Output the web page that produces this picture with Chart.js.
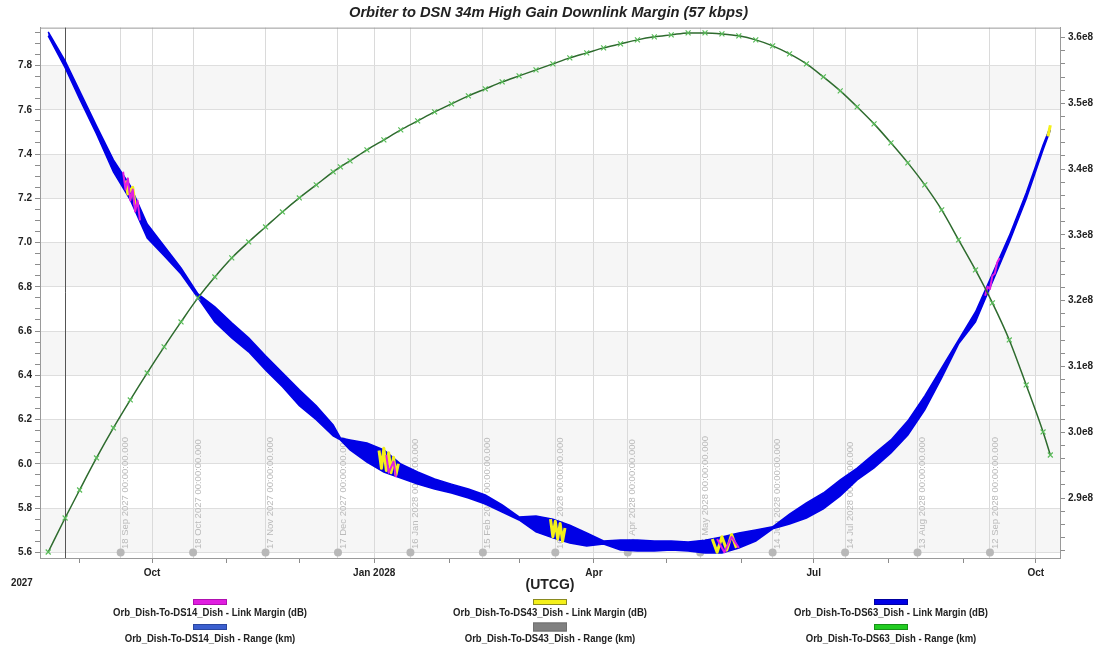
<!DOCTYPE html>
<html>
<head>
<meta charset="utf-8">
<script src="https://cdn.jsdelivr.net/npm/chart.js@4.4.1/dist/chart.umd.min.js"></script>
<style>
  html, body { margin: 0; padding: 0; background: #fff; }
</style>
</head>
<body>
<canvas id="marginChart" width="1097" height="649"></canvas>
<script>
// weekly samples (UTCG dates)
const marginDates = ['2027-08-19', '2027-08-26', '2027-09-01', '2027-09-08', '2027-09-15', '2027-09-22', '2027-09-29',
  '2027-10-06', '2027-10-13', '2027-10-20', '2027-10-27', '2027-11-03', '2027-11-10', '2027-11-17', '2027-11-24',
  '2027-12-01', '2027-12-08', '2027-12-15', '2027-12-18', '2027-12-22', '2027-12-29', '2028-01-05', '2028-01-12',
  '2028-01-19', '2028-01-26', '2028-02-02', '2028-02-09', '2028-02-16', '2028-02-23', '2028-03-01', '2028-03-08',
  '2028-03-15', '2028-03-22', '2028-03-29', '2028-04-05', '2028-04-12', '2028-04-19', '2028-04-26', '2028-05-03',
  '2028-05-10', '2028-05-17', '2028-05-24', '2028-05-31', '2028-06-07', '2028-06-14', '2028-06-21', '2028-06-28',
  '2028-07-05', '2028-07-12', '2028-07-19', '2028-07-26', '2028-08-02', '2028-08-09', '2028-08-16', '2028-08-23',
  '2028-08-30', '2028-09-06', '2028-09-13', '2028-09-20', '2028-09-27', '2028-10-04', '2028-10-07'];

// DS63 link margin (dB): top and bottom edge of the daily swing
const ds63MarginHigh = [7.952, 7.821, 7.686, 7.527, 7.374, 7.256, 7.084, 6.985, 6.885, 6.768, 6.709, 6.637, 6.569,
  6.488, 6.411, 6.334, 6.262, 6.176, 6.117, 6.108, 6.094, 6.063, 5.999, 5.963, 5.931, 5.908, 5.886, 5.859, 5.814,
  5.760, 5.764, 5.750, 5.723, 5.687, 5.651, 5.655, 5.655, 5.651, 5.651, 5.646, 5.655, 5.669, 5.687, 5.701, 5.715,
  5.773, 5.823, 5.868, 5.927, 5.981, 6.045, 6.108, 6.194, 6.307, 6.433, 6.560, 6.686, 6.858, 7.030, 7.224, 7.441, 7.523];
const ds63MarginLow = [7.934, 7.790, 7.649, 7.491, 7.319, 7.193, 7.020, 6.940, 6.858, 6.750, 6.641, 6.569, 6.506,
  6.424, 6.348, 6.262, 6.199, 6.126, 6.108, 6.063, 6.008, 5.963, 5.936, 5.908, 5.886, 5.868, 5.845, 5.818, 5.782,
  5.746, 5.692, 5.665, 5.642, 5.628, 5.637, 5.610, 5.606, 5.606, 5.610, 5.606, 5.597, 5.597, 5.619, 5.651, 5.706,
  5.728, 5.755, 5.796, 5.855, 5.927, 5.981, 6.049, 6.130, 6.244, 6.388, 6.542, 6.641, 6.822, 7.003, 7.197, 7.419, 7.509];

// DS63 range (km), same dates
const ds63Range = [2.8179e8, 2.8696e8, 2.9122e8, 2.9609e8, 3.0065e8, 3.0491e8, 3.0901e8, 3.1297e8, 3.1677e8,
  3.2042e8, 3.2361e8, 3.2650e8, 3.2893e8, 3.3121e8, 3.3349e8, 3.3562e8, 3.3760e8, 3.3958e8, 3.4034e8, 3.4125e8,
  3.4292e8, 3.4444e8, 3.4596e8, 3.4733e8, 3.4870e8, 3.4992e8, 3.5113e8, 3.5220e8, 3.5326e8, 3.5418e8, 3.5509e8,
  3.5600e8, 3.5691e8, 3.5767e8, 3.5843e8, 3.5904e8, 3.5965e8, 3.6011e8, 3.6041e8, 3.6071e8, 3.6071e8, 3.6056e8,
  3.6026e8, 3.5965e8, 3.5874e8, 3.5752e8, 3.5600e8, 3.5402e8, 3.5189e8, 3.4946e8, 3.4688e8, 3.4399e8, 3.4095e8,
  3.3760e8, 3.3380e8, 3.2924e8, 3.2467e8, 3.1966e8, 3.1403e8, 3.0719e8, 3.0004e8, 2.9654e8];

// short DS14 / DS43 passes (null breaks the line)
const ds14Dates = ['2027-09-19', '2027-09-20', '2027-09-21', '2027-09-22', '2027-09-23', '2027-09-24', '2027-09-25', '2027-09-26',
  '2027-12-30', '2028-01-06', '2028-01-07', '2028-01-09', '2028-01-10',
  '2028-05-01', '2028-05-22', '2028-05-25', '2028-05-28', '2028-05-31',
  '2028-08-01', '2028-09-10', '2028-09-11', '2028-09-12', '2028-09-13', '2028-09-14', '2028-09-15', '2028-09-16'];
const ds14Margin = [7.32, 7.24, 7.29, 7.19, 7.24, 7.14, 7.19, 7.10,
  null, 6.04, 5.96, 6.01, 5.94,
  null, 5.66, 5.60, 5.67, 5.62,
  null, 6.76, 6.80, 6.79, 6.85, 6.86, 6.91, 6.93];
const ds43Dates = ['2027-09-20', '2027-09-21', '2027-09-23', '2027-09-24',
  '2027-12-30', '2028-01-03', '2028-01-04', '2028-01-05', '2028-01-06', '2028-01-07', '2028-01-08', '2028-01-09', '2028-01-10', '2028-01-11',
  '2028-02-20', '2028-03-14', '2028-03-15', '2028-03-16', '2028-03-17', '2028-03-18', '2028-03-19', '2028-03-20',
  '2028-04-30', '2028-05-20', '2028-05-22', '2028-05-24', '2028-05-26', '2028-05-28', '2028-05-30',
  '2028-08-01', '2028-10-06', '2028-10-07'];
const ds43Margin = [7.28, 7.22, 7.25, 7.17,
  null, 6.06, 5.98, 6.07, 5.97, 6.05, 5.96, 6.03, 5.95, 6.00,
  null, 5.75, 5.67, 5.74, 5.66, 5.73, 5.65, 5.71,
  null, 5.66, 5.60, 5.67, 5.61, 5.68, 5.62,
  null, 7.48, 7.53];

// axes
const leftTicks = [5.6, 5.8, 6.0, 6.2, 6.4, 6.6, 6.8, 7.0, 7.2, 7.4, 7.6, 7.8];
const rightTicks = [2.9e8, 3.0e8, 3.1e8, 3.2e8, 3.3e8, 3.4e8, 3.5e8, 3.6e8];
const quarterTicks = ['2027-10-01', '2028-01-01', '2028-04-01', '2028-07-01', '2028-10-01'];
const quarterLabels = ['Oct', 'Jan 2028', 'Apr', 'Jul', 'Oct'];
const monthTicks = ['2027-09-01', '2027-11-01', '2027-12-01', '2028-02-01', '2028-03-01', '2028-05-01',
  '2028-06-01', '2028-08-01', '2028-09-01'];
const epochDates = ['2027-09-18', '2027-10-18', '2027-11-17', '2027-12-17', '2028-01-16', '2028-02-15', '2028-03-16',
  '2028-04-15', '2028-05-15', '2028-06-14', '2028-07-14', '2028-08-13', '2028-09-12'];
const epochLabels = ['18 Sep 2027 00:00:00.000', '18 Oct 2027 00:00:00.000', '17 Nov 2027 00:00:00.000',
  '17 Dec 2027 00:00:00.000', '16 Jan 2028 00:00:00.000', '15 Feb 2028 00:00:00.000', '16 Mar 2028 00:00:00.000',
  '15 Apr 2028 00:00:00.000', '15 May 2028 00:00:00.000', '14 Jun 2028 00:00:00.000', '14 Jul 2028 00:00:00.000',
  '13 Aug 2028 00:00:00.000', '12 Sep 2028 00:00:00.000'];
const startMarker = '2027-08-26';

const SANS = '"Liberation Sans", Arial, sans-serif';

// day number since 1 Aug 2027
const T0 = Date.UTC(2027, 7, 1);
function day(s) {
  return (Date.parse(s + 'T00:00:00Z') - T0) / 864e5;
}
function xy(dates, vals) {
  return dates.map((d, i) => ({ x: day(d), y: vals[i] }));
}

const xMajor = quarterTicks.map(day);
const xMonth = monthTicks.map(day);
const xEpoch = epochDates.map(day);
const isIn = (list, v) => list.some(t => Math.abs(t - v) < 1e-6);

const leftAll = [];
for (let k = 112; k <= 159; k++) leftAll.push(k * 0.05);
const rightAll = [];
for (let k = 282; k <= 360; k += 2) rightAll.push(k * 1e6);

// text squeezed sideways, the original uses a narrow face
function narrowText(ctx, text, x, y, squeeze) {
  ctx.save();
  ctx.translate(x, y);
  ctx.scale(squeeze, 1);
  ctx.fillText(text, 0, 0);
  ctx.restore();
}

const decor = {
  id: 'decor',
  beforeDraw(chart) {
    const { ctx, chartArea: a } = chart;
    const y = chart.scales.y;
    ctx.save();
    ctx.fillStyle = '#fff';
    ctx.fillRect(0, 0, chart.width, chart.height);
    // alternating bands
    ctx.fillStyle = '#f6f6f6';
    for (let i = leftTicks.length - 1; i > 0; i -= 2) {
      const top = y.getPixelForValue(leftTicks[i]);
      const bot = y.getPixelForValue(leftTicks[i - 1]);
      ctx.fillRect(a.left, top, a.right - a.left, bot - top);
    }
    ctx.restore();
  },
  beforeDatasetsDraw(chart) {
    const { ctx, chartArea: a } = chart;
    const x = chart.scales.x;
    ctx.save();
    // plot frame top
    ctx.strokeStyle = '#9a9a9a';
    ctx.lineWidth = 1;
    ctx.beginPath();
    ctx.moveTo(a.left, a.top + 0.5);
    ctx.lineTo(a.right, a.top + 0.5);
    ctx.stroke();
    // start time marker
    const mx = Math.round(x.getPixelForValue(day(startMarker))) + 0.5;
    ctx.strokeStyle = '#555';
    ctx.beginPath();
    ctx.moveTo(mx, a.top);
    ctx.lineTo(mx, a.bottom);
    ctx.stroke();
    // 30 day epoch labels
    ctx.font = '9.5px ' + SANS;
    ctx.textAlign = 'left';
    ctx.textBaseline = 'middle';
    epochDates.forEach((d, i) => {
      const px = x.getPixelForValue(day(d));
      ctx.fillStyle = '#b8b8b8';
      ctx.beginPath();
      ctx.arc(px, a.bottom - 5.5, 4, 0, Math.PI * 2);
      ctx.fill();
      ctx.save();
      ctx.translate(px + 5, a.bottom - 9);
      ctx.rotate(-Math.PI / 2);
      ctx.fillStyle = '#bababa';
      ctx.fillText(epochLabels[i], 0, 0);
      ctx.restore();
    });
    ctx.restore();
  },
  afterDraw(chart) {
    const { ctx } = chart;
    ctx.save();
    ctx.fillStyle = '#222';
    ctx.font = 'bold 11.5px ' + SANS;
    ctx.textAlign = 'left';
    ctx.textBaseline = 'middle';
    narrowText(ctx, '2027', 11, 582.5, 0.85);

    // legend: one column per station, swatch above text
    const cols = [210, 550, 891];
    const rows = [{ box: 599, text: 613 }, { box: 624, text: 638.5 }];
    ctx.textAlign = 'center';
    chart.data.datasets.filter(ds => !ds.noLegend).forEach((ds, k) => {
      const cx = cols[Math.floor(k / 2)];
      const r = rows[k % 2];
      const h = ds.swatchHeight || 6;
      ctx.fillStyle = ds.swatch;
      ctx.fillRect(cx - 17, r.box + 3 - h / 2, 34, h);
      ctx.strokeStyle = ds.swatchEdge;
      ctx.lineWidth = 1;
      ctx.strokeRect(cx - 17 + 0.5, r.box + 3 - h / 2 + 0.5, 33, h - 1);
      ctx.fillStyle = '#222';
      narrowText(ctx, ds.label, cx, r.text, 0.83);
    });
    ctx.restore();
  }
};

const tickFont = { family: SANS, size: 10, weight: 'bold' };

const config = {
  type: 'line',
  data: {
    datasets: [
      {
        label: 'Orb_Dish-To-DS14_Dish - Link Margin (dB)',
        data: xy(ds14Dates, ds14Margin),
        borderColor: '#e01ee0', borderWidth: 2, borderJoinStyle: 'round', pointRadius: 0, yAxisID: 'y', order: 2,
        swatch: '#e01ee0', swatchEdge: '#b010b0'
      },
      {
        label: 'Orb_Dish-To-DS14_Dish - Range (km)',
        data: [], borderColor: '#3b5fcf', pointRadius: 0, yAxisID: 'y1', order: 6,
        swatch: '#3b5fcf', swatchEdge: '#2a47a0'
      },
      {
        label: 'Orb_Dish-To-DS43_Dish - Link Margin (dB)',
        data: xy(ds43Dates, ds43Margin),
        borderColor: '#f4f01a', borderWidth: 3, borderJoinStyle: 'round', pointRadius: 0, yAxisID: 'y', order: 3,
        swatch: '#f4f01a', swatchEdge: '#8a8a20'
      },
      {
        label: 'Orb_Dish-To-DS43_Dish - Range (km)',
        data: [], borderColor: '#808080', pointRadius: 0, yAxisID: 'y1', order: 6,
        swatch: '#808080', swatchEdge: '#707070', swatchHeight: 9
      },
      {
        label: 'Orb_Dish-To-DS63_Dish - Link Margin (dB)',
        data: xy(marginDates, ds63MarginHigh),
        borderColor: '#0000e6', borderWidth: 1.5, pointRadius: 0, yAxisID: 'y', order: 5,
        swatch: '#0000e6', swatchEdge: '#0000a0'
      },
      {
        label: 'DS63 margin low',
        data: xy(marginDates, ds63MarginLow),
        borderColor: '#0000e6', backgroundColor: '#0000e6', borderWidth: 1.5, pointRadius: 0,
        yAxisID: 'y', fill: 4, order: 5, noLegend: true
      },
      {
        label: 'Orb_Dish-To-DS63_Dish - Range (km)',
        data: xy(marginDates, ds63Range),
        borderColor: '#2e6b2e', borderWidth: 1.5, cubicInterpolationMode: 'monotone',
        pointStyle: 'crossRot', pointRadius: 3.5, pointBorderColor: '#58bb58', pointBorderWidth: 1.2,
        yAxisID: 'y1', order: 1,
        swatch: '#22cc22', swatchEdge: '#179017'
      }
    ]
  },
  options: {
    responsive: false,
    animation: false,
    layout: { padding: { top: 1, bottom: 54, left: 0, right: 0 } },
    plugins: {
      legend: { display: false },
      tooltip: { enabled: false },
      title: {
        display: true,
        text: 'Orbiter to DSN 34m High Gain Downlink Margin (57 kbps)',
        color: '#222',
        font: { family: SANS, size: 14.7, weight: 'bold', style: 'italic' },
        padding: { top: 3, bottom: 6 }
      }
    },
    scales: {
      x: {
        type: 'linear',
        min: day('2027-08-15') + 0.6,
        max: day('2028-10-11'),
        afterBuildTicks: (scale) => {
          scale.ticks = [...xMonth, ...xMajor, ...xEpoch].sort((a, b) => a - b).map(v => ({ value: v }));
        },
        afterFit: (scale) => { scale.height = 37; },
        ticks: {
          autoSkip: false, maxRotation: 0, padding: 4, color: '#222', font: tickFont,
          callback: (v) => {
            const i = xMajor.findIndex(t => Math.abs(t - v) < 1e-6);
            return i >= 0 ? quarterLabels[i] : '';
          }
        },
        grid: {
          tickLength: 5,
          color: (c) => (isIn(xMajor, c.tick.value) || isIn(xEpoch, c.tick.value)) ? '#dadada' : 'rgba(0,0,0,0)',
          tickColor: (c) => isIn(xEpoch, c.tick.value) ? 'rgba(0,0,0,0)' : '#8c8c8c'
        },
        border: { color: '#9a9a9a' },
        title: {
          display: true, text: '(UTCG)', color: '#222',
          font: { family: SANS, size: 14, weight: 'bold' }, padding: { top: 0, bottom: 1 }
        }
      },
      y: {
        position: 'left',
        min: 5.5742,
        max: 7.9713,
        afterBuildTicks: (scale) => { scale.ticks = leftAll.map(v => ({ value: v })); },
        afterFit: (scale) => { scale.width = 40; },
        ticks: {
          autoSkip: false, padding: 3, color: '#222', font: tickFont,
          callback: (v) => isIn(leftTicks, v) ? v.toFixed(1) : ''
        },
        grid: {
          tickLength: 5,
          color: (c) => isIn(leftTicks, c.tick.value) ? '#dedede' : 'rgba(0,0,0,0)',
          tickColor: '#8c8c8c'
        },
        border: { color: '#9a9a9a' }
      },
      y1: {
        position: 'right',
        min: 2.8088e8,
        max: 3.6151e8,
        afterBuildTicks: (scale) => { scale.ticks = rightAll.map(v => ({ value: v })); },
        afterFit: (scale) => { scale.width = 37; },
        ticks: {
          autoSkip: false, padding: 3, color: '#222', font: tickFont,
          callback: (v) => rightTicks.some(t => Math.abs(t - v) < 1) ? (v / 1e8).toFixed(1) + 'e8' : ''
        },
        grid: { drawOnChartArea: false, tickLength: 5, tickColor: '#8c8c8c' },
        border: { color: '#9a9a9a' }
      }
    }
  },
  plugins: [decor]
};

const marginChart = new Chart(document.getElementById('marginChart'), config);
</script>
</body>
</html>
